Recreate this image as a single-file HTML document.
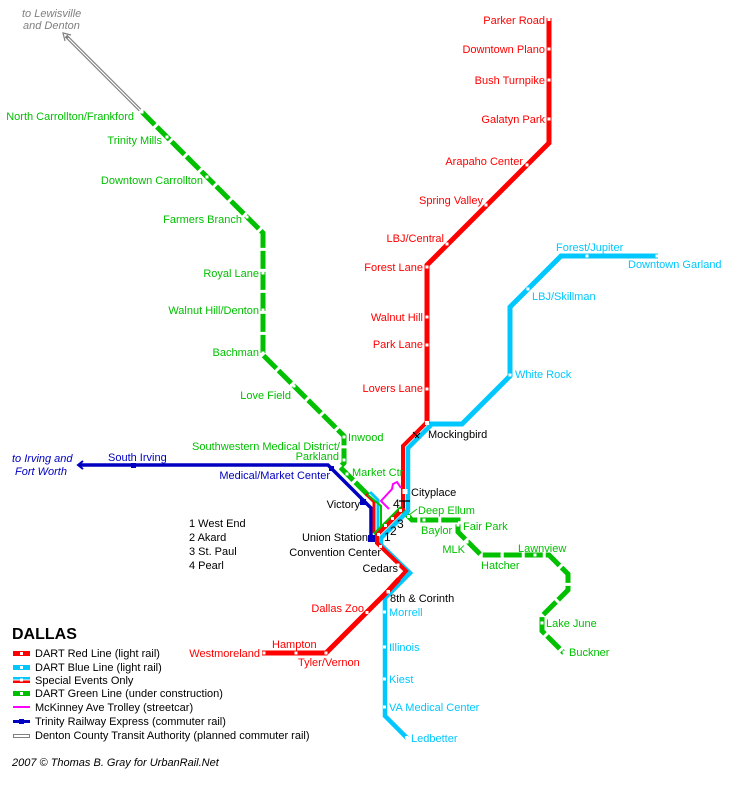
<!DOCTYPE html>
<html><head><meta charset="utf-8"><style>
html,body{margin:0;padding:0;background:#fff;}
svg{display:block;}
text{font-family:"Liberation Sans",Arial,sans-serif;font-size:11px;}
.r{fill:#ff0000}.c{fill:#00c8ff}.g{fill:#00c000}.k{fill:#000}.b{fill:#0000c0}
.e{text-anchor:end}
.it{font-style:italic}
</style></head><body>
<svg width="736" height="791" viewBox="0 0 736 791" xmlns="http://www.w3.org/2000/svg">
<rect width="736" height="791" fill="#fff"/>

<!-- Denton gray line -->
<line x1="66" y1="36" x2="140" y2="110" stroke="#808080" stroke-width="3.5"/>
<line x1="68" y1="38" x2="140" y2="110" stroke="#fff" stroke-width="1.2"/>
<path d="M71,35 L63,33 L65,41" fill="none" stroke="#808080" stroke-width="1.2"/>

<!-- Green line (dashed) -->
<g fill="none" stroke="#00c000" stroke-width="5" stroke-dasharray="18 3" stroke-linejoin="miter">
<polyline points="142,112 263,233 263,355 344,436 344,463 340,467 368,495"/>
<polyline points="403,511 412,520 458,520 458,532 481,555 549,555 568,574 568,590 542,616 542,631 564,653"/>
</g>
<!-- Deep Ellum leader -->
<line x1="409" y1="515" x2="417" y2="509" stroke="#00c000" stroke-width="1"/>

<!-- TRE -->
<polyline points="79,465 328,465 371,508 371,541" fill="none" stroke="#0000c0" stroke-width="3.5"/>
<path d="M83,461 L78,465 L83,469" fill="none" stroke="#0000c0" stroke-width="2"/>
<rect x="131" y="463" width="5" height="5" fill="#0000c0"/>
<rect x="329" y="466" width="5" height="5" fill="#0000c0"/>
<rect x="360" y="499" width="6" height="6" fill="#0000c0"/>
<rect x="368" y="535" width="7" height="7" fill="#0000c0"/>

<!-- Special events from Victory -->
<polyline points="366,494 374,502 374,533" fill="none" stroke="#ff0000" stroke-width="3"/>
<polyline points="370,492 378,500 378,531" fill="none" stroke="#00c8ff" stroke-width="3"/>
<polyline points="368,495 381,506 381,527" fill="none" stroke="#00c000" stroke-width="2"/>

<!-- Blue line -->
<polyline points="427,424 462,424 510,376 510,307 561,256 658,256" fill="none" stroke="#00c8ff" stroke-width="5"/>
<polyline points="431,425 408,448 408,511 381,538 381,545 410,573 385,598 385,716 407,738" fill="none" stroke="#00c8ff" stroke-width="4.5"/>

<!-- Mall green -->
<line x1="401" y1="507" x2="374" y2="534" stroke="#00c000" stroke-width="2.5"/>

<!-- Red line -->
<polyline points="549,18 549,143 427,265 427,423" fill="none" stroke="#ff0000" stroke-width="5"/>
<polyline points="428,421 403,446 403,509 377,535 377,543 406,571 397,581" fill="none" stroke="#ff0000" stroke-width="4"/>
<polyline points="399,579 388,591 326,653 262,653" fill="none" stroke="#ff0000" stroke-width="5"/>

<!-- Magenta trolley -->
<polyline points="401,488 397,482 393,484 392,489 381,501 389,509" fill="none" stroke="#ff00ff" stroke-width="2"/>

<!-- Pearl T -->
<path d="M399,501 H410 M404,501 V508" stroke="#000" stroke-width="1.3" fill="none"/>
<!-- Mockingbird symbol -->
<path d="M413,432 L419,438 M415,438 L420,433" stroke="#000" stroke-width="1" fill="none"/>

<!-- Stations (white squares) -->
<g fill="#fff">
<!-- red -->
<rect x="547.5" y="18" width="3" height="3"/>
<rect x="547.5" y="47.5" width="3" height="3"/>
<rect x="547.5" y="78.5" width="3" height="3"/>
<rect x="547.5" y="117.5" width="3" height="3"/>
<rect x="525.5" y="163.5" width="3" height="3"/>
<rect x="484.5" y="203.5" width="3" height="3"/>
<rect x="445.5" y="242.5" width="3" height="3"/>
<rect x="425.5" y="265.5" width="3" height="3"/>
<rect x="425.5" y="315.5" width="3" height="3"/>
<rect x="425.5" y="343.5" width="3" height="3"/>
<rect x="425.5" y="387.5" width="3" height="3"/>
<rect x="425" y="421" width="4" height="4"/>
<rect x="402.5" y="489" width="5" height="5"/>
<rect x="399" y="509" width="3" height="3"/>
<rect x="391" y="517" width="3" height="3"/>
<rect x="384" y="524" width="3" height="3"/>
<rect x="377" y="533" width="3" height="3"/>
<rect x="379" y="545" width="3" height="3"/>
<rect x="396.5" y="563.5" width="3" height="3"/>
<rect x="386.5" y="590" width="3.5" height="3.5"/>
<rect x="365.5" y="611" width="3" height="3"/>
<rect x="324.5" y="651.5" width="3" height="3"/>
<rect x="294.5" y="651.5" width="3" height="3"/>
<rect x="262.5" y="651.5" width="3" height="3"/>
<!-- blue -->
<rect x="585.5" y="254.5" width="3" height="3"/>
<rect x="655.5" y="254.5" width="3" height="3"/>
<rect x="526.5" y="287.5" width="3" height="3"/>
<rect x="508.5" y="373.5" width="3" height="3"/>
<rect x="383" y="610.5" width="3" height="3"/>
<rect x="383" y="645.5" width="3" height="3"/>
<rect x="383" y="677.5" width="3" height="3"/>
<rect x="383" y="705.5" width="3" height="3"/>
<rect x="405" y="736" width="3" height="3"/>
<!-- green -->
<rect x="140.5" y="110.5" width="3" height="3"/>
<rect x="165.5" y="135.5" width="3" height="3"/>
<rect x="205.5" y="175.5" width="3" height="3"/>
<rect x="245.5" y="215.5" width="3" height="3"/>
<rect x="261.5" y="271.5" width="3" height="3"/>
<rect x="261.5" y="308.5" width="3" height="3"/>
<rect x="261.5" y="351.5" width="3" height="3"/>
<rect x="292.5" y="384.5" width="3" height="3"/>
<rect x="342.5" y="435.5" width="3" height="3"/>
<rect x="342.5" y="458.5" width="3" height="3"/>
<rect x="345.5" y="472.5" width="3" height="3"/>
<rect x="407" y="515" width="3" height="3"/>
<rect x="422.5" y="518.5" width="3" height="3"/>
<rect x="456.5" y="523.5" width="3" height="3"/>
<rect x="465.5" y="540.5" width="3" height="3"/>
<rect x="500.5" y="553.5" width="3" height="3"/>
<rect x="533.5" y="553.5" width="3" height="3"/>
<rect x="540.5" y="621.5" width="3" height="3"/>
<rect x="562.5" y="650.5" width="3" height="3"/>
</g>

<!-- Gray labels -->
<text x="22" y="17" class="it" fill="#808080">to Lewisville</text>
<text x="23" y="29" class="it" fill="#808080">and Denton</text>

<!-- Red labels -->
<g class="r">
<text x="545" y="24" class="e">Parker Road</text>
<text x="545" y="53" class="e">Downtown Plano</text>
<text x="545" y="84" class="e">Bush Turnpike</text>
<text x="545" y="123" class="e">Galatyn Park</text>
<text x="523" y="165" class="e">Arapaho Center</text>
<text x="483" y="204" class="e">Spring Valley</text>
<text x="444" y="242" class="e">LBJ/Central</text>
<text x="423" y="271" class="e">Forest Lane</text>
<text x="423" y="321" class="e">Walnut Hill</text>
<text x="423" y="348" class="e">Park Lane</text>
<text x="423" y="392" class="e">Lovers Lane</text>
<text x="364" y="612" class="e">Dallas Zoo</text>
<text x="260" y="657" class="e">Westmoreland</text>
<text x="272" y="648">Hampton</text>
<text x="298" y="666">Tyler/Vernon</text>
</g>

<!-- Blue labels -->
<g class="c">
<text x="556" y="251">Forest/Jupiter</text>
<text x="628" y="268">Downtown Garland</text>
<text x="532" y="300">LBJ/Skillman</text>
<text x="515" y="378">White Rock</text>
<text x="389" y="616">Morrell</text>
<text x="389" y="651">Illinois</text>
<text x="389" y="683">Kiest</text>
<text x="389" y="711">VA Medical Center</text>
<text x="411" y="742">Ledbetter</text>
</g>

<!-- Green labels -->
<g class="g">
<text x="134" y="120" class="e">North Carrollton/Frankford</text>
<text x="162" y="144" class="e">Trinity Mills</text>
<text x="203" y="184" class="e">Downtown Carrollton</text>
<text x="242" y="223" class="e">Farmers Branch</text>
<text x="259" y="277" class="e">Royal Lane</text>
<text x="259" y="314" class="e">Walnut Hill/Denton</text>
<text x="259" y="356" class="e">Bachman</text>
<text x="291" y="399" class="e">Love Field</text>
<text x="348" y="441">Inwood</text>
<text x="340" y="450" class="e">Southwestern Medical District/</text>
<text x="339" y="460" class="e">Parkland</text>
<text x="352" y="476">Market Ctr</text>
<text x="418" y="514">Deep Ellum</text>
<text x="421" y="534">Baylor</text>
<text x="463" y="530">Fair Park</text>
<text x="465" y="553" class="e">MLK</text>
<text x="481" y="569">Hatcher</text>
<text x="518" y="552">Lawnview</text>
<text x="546" y="627">Lake June</text>
<text x="569" y="656">Buckner</text>
</g>

<!-- TRE labels -->
<g class="b">
<text x="12" y="462" class="it">to Irving and</text>
<text x="15" y="475" class="it">Fort Worth</text>
<text x="108" y="461">South Irving</text>
<text x="330" y="479" class="e">Medical/Market Center</text>
</g>

<!-- Black labels -->
<g class="k">
<text x="428" y="438">Mockingbird</text>
<text x="411" y="496">Cityplace</text>
<text x="360" y="508" class="e">Victory</text>
<text x="368" y="541" class="e">Union Station</text>
<text x="381" y="556" class="e">Convention Center</text>
<text x="398" y="572" class="e">Cedars</text>
<text x="390" y="602">8th &amp; Corinth</text>
<text x="393" y="508" style="font-size:12px">4</text>
<text x="397" y="528" style="font-size:12px">3</text>
<text x="390" y="535" style="font-size:12px">2</text>
<text x="384" y="541" style="font-size:12px">1</text>
<text x="189" y="527">1 West End</text>
<text x="189" y="541">2 Akard</text>
<text x="189" y="555">3 St. Paul</text>
<text x="189" y="569">4 Pearl</text>
</g>

<!-- Legend -->
<text x="12" y="639" style="font-size:16px;font-weight:bold" class="k">DALLAS</text>
<rect x="13" y="651" width="17" height="5" fill="#ff0000"/><rect x="20" y="652" width="3" height="3" fill="#fff"/>
<rect x="13" y="665" width="17" height="5" fill="#00c8ff"/><rect x="20" y="666" width="3" height="3" fill="#fff"/>
<rect x="13" y="677" width="17" height="2.5" fill="#00c8ff"/><rect x="13" y="680.5" width="17" height="2.5" fill="#ff0000"/><rect x="20" y="678.5" width="3" height="3" fill="#fff"/>
<rect x="13" y="691" width="17" height="5" fill="#00c000"/><rect x="20" y="692" width="3" height="3" fill="#fff"/>
<rect x="13" y="706" width="17" height="2" fill="#ff00ff"/>
<rect x="13" y="720" width="17" height="3" fill="#0000c0"/><rect x="19" y="719" width="5" height="5" fill="#0000c0"/>
<rect x="13.5" y="734.5" width="16" height="3" fill="#fff" stroke="#808080" stroke-width="1"/>
<g class="k">
<text x="35" y="657">DART Red Line (light rail)</text>
<text x="35" y="671">DART Blue Line (light rail)</text>
<text x="35" y="684">Special Events Only</text>
<text x="35" y="697">DART Green Line (under construction)</text>
<text x="35" y="711">McKinney Ave Trolley (streetcar)</text>
<text x="35" y="725">Trinity Railway Express (commuter rail)</text>
<text x="35" y="739">Denton County Transit Authority (planned commuter rail)</text>
<text x="12" y="766" class="it">2007 © Thomas B. Gray  for UrbanRail.Net</text>
</g>
</svg>
</body></html>
